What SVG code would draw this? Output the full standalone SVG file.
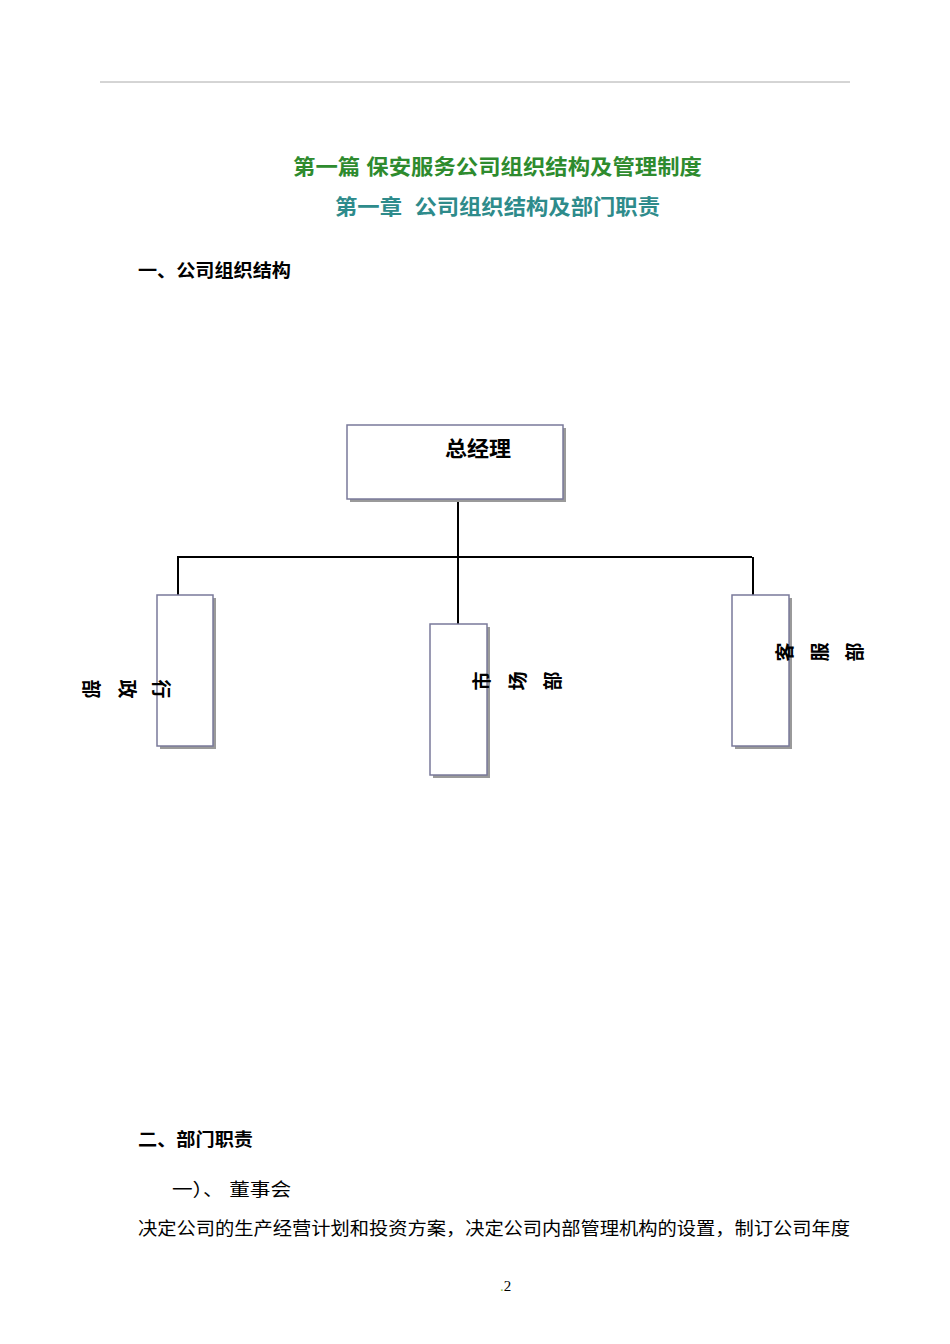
<svg xmlns="http://www.w3.org/2000/svg" width="950" height="1344" viewBox="0 0 950 1344">
<style>
text{font-family:"Liberation Sans","Noto Sans CJK SC",sans-serif}
.b{font-weight:bold}
.box{fill:#fff;stroke:#7a7a9a;stroke-width:1.5}
.sh{fill:#9a9a9a}
.ln{stroke:#000;stroke-width:2;fill:none}
.v{font-size:19px;font-weight:bold;text-anchor:middle;dominant-baseline:central}
</style>
<rect width="950" height="1344" fill="#fff"/>
<line x1="100" y1="82" x2="850" y2="82" stroke="#aaa" stroke-width="1"/>
<text x="293" y="174" class="b" font-size="21" fill="#2e8b2e" textLength="409" lengthAdjust="spacingAndGlyphs">第一篇 保安服务公司组织结构及管理制度</text>
<text x="335" y="214" class="b" font-size="21" fill="#2e8b8b" textLength="325" lengthAdjust="spacingAndGlyphs" xml:space="preserve">第一章  公司组织结构及部门职责</text>
<text x="138" y="277" class="b" font-size="18" textLength="153" lengthAdjust="spacingAndGlyphs">一、公司组织结构</text>
<g id="connectors">
<line class="ln" x1="458" y1="488" x2="458" y2="624"/>
<line class="ln" x1="177" y1="557" x2="752" y2="557"/>
<line class="ln" x1="178" y1="557" x2="178" y2="595"/>
<line class="ln" x1="753" y1="557" x2="753" y2="595"/>
</g>
<g id="n-gm">
<rect class="sh" x="350" y="428" width="216" height="74"/>
<rect class="box" x="347" y="425" width="216" height="74"/>
<text x="445" y="456" class="b" font-size="21" textLength="66" lengthAdjust="spacingAndGlyphs">总经理</text>
</g>
<g id="n-admin">
<rect class="sh" x="160" y="598" width="56" height="151"/>
<rect class="box" x="157" y="595" width="56" height="151"/>
<text class="v" transform="translate(160,689) rotate(90)">行</text>
<text class="v" transform="translate(126,689) rotate(90)">政</text>
<text class="v" transform="translate(90,689) rotate(90)">部</text>
</g>
<g id="n-market">
<rect class="sh" x="433" y="627" width="57" height="151"/>
<rect class="box" x="430" y="624" width="57" height="151"/>
<text class="v" transform="translate(482,681) rotate(-90)">市</text>
<text class="v" transform="translate(518,681) rotate(-90)">场</text>
<text class="v" transform="translate(553,681) rotate(-90)">部</text>
</g>
<g id="n-service">
<rect class="sh" x="735" y="598" width="57" height="151"/>
<rect class="box" x="732" y="595" width="57" height="151"/>
<text class="v" transform="translate(785,652) rotate(-90)">客</text>
<text class="v" transform="translate(820,652) rotate(-90)">服</text>
<text class="v" transform="translate(855,652) rotate(-90)">部</text>
</g>
<text x="138" y="1146" class="b" font-size="18" textLength="115" lengthAdjust="spacingAndGlyphs">二、部门职责</text>
<text x="172" y="1196" font-size="18" textLength="119" lengthAdjust="spacingAndGlyphs" xml:space="preserve">一）、 董事会</text>
<text x="138" y="1235" font-size="18" textLength="712" lengthAdjust="spacingAndGlyphs">决定公司的生产经营计划和投资方案，决定公司内部管理机构的设置，制订公司年度</text>
<text x="500" y="1291" style="font-family:'Liberation Serif',serif" font-size="15"><tspan fill="#8bc34a">.</tspan>2</text>
</svg>
